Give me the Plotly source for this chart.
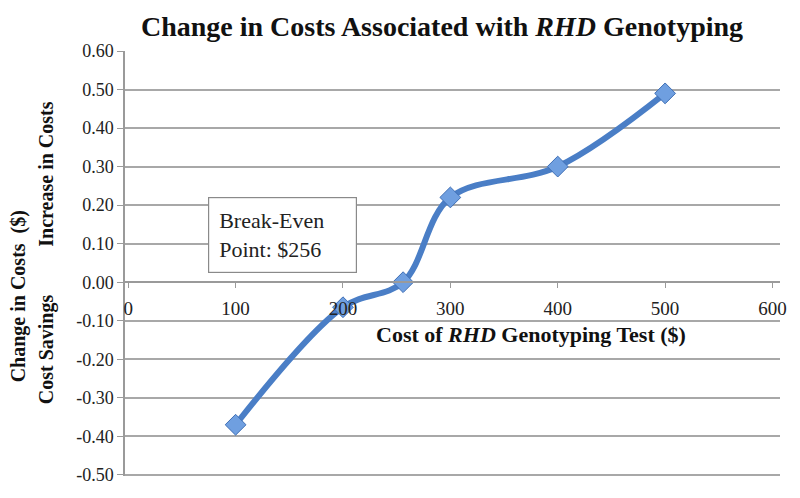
import plotly.graph_objects as go

# data
test_cost = [100, 200, 256, 300, 400, 500]
change_in_cost = [-0.37, -0.065, 0.0, 0.22, 0.30, 0.49]

x_ticks = [0, 100, 200, 300, 400, 500, 600]
y_ticks = [-0.5, -0.4, -0.3, -0.2, -0.1, 0.0, 0.1, 0.2, 0.3, 0.4, 0.5, 0.6]
y_ticktext = ["%.2f" % v for v in y_ticks]  # keeps plain hyphen minus

FONT = "Liberation Serif"
Y_MIN, Y_MAX = -0.503, 0.6

fig = go.Figure()

fig.add_trace(go.Scatter(
    x=test_cost, y=change_in_cost,
    mode='lines+markers',
    line=dict(color='#4A7EC6', width=6, shape='spline', smoothing=1.0),
    marker=dict(symbol='diamond', size=16, color='#6F9FE0',
                line=dict(color='#3F6FB5', width=1)),
    showlegend=False,
    hoverinfo='x+y'
))

# x axis crosses y at 0
zero_pos = (0 - Y_MIN) / (Y_MAX - Y_MIN)

# body has an 8px margin; keep the figure small enough to avoid scrollbars
fig.update_layout(
    width=784, height=482,
    margin=dict(l=117, r=12, t=43, b=14),
    paper_bgcolor='white', plot_bgcolor='white',
    font=dict(family=FONT, size=18, color='#222222'),
    title=dict(text="<b>Change in Costs Associated with <i>RHD</i> Genotyping</b>",
               x=0.5536, xanchor='center', y=0.963, yanchor='middle',
               font=dict(family=FONT, size=28, color='#111111')),
    xaxis=dict(range=[-3, 607], tickvals=x_ticks, ticktext=[str(v) for v in x_ticks],
               anchor='free', position=zero_pos, automargin=False,
               showgrid=False, zeroline=False,
               showline=True, linecolor='#9A9A9A', linewidth=1.5,
               ticks='outside', ticklen=5, tickcolor='#9A9A9A',
               ticklabelstandoff=4,
               tickfont=dict(family=FONT, size=19, color='#222222')),
    yaxis=dict(range=[Y_MIN, Y_MAX], tickvals=y_ticks, ticktext=y_ticktext,
               automargin=False,
               showgrid=True, gridcolor='#A8A8A8', gridwidth=1.5,
               zeroline=False,
               showline=True, linecolor='#9A9A9A', linewidth=1.5,
               ticks='outside', ticklen=6, tickcolor='#9A9A9A',
               tickfont=dict(family=FONT, size=18, color='#222222')),
)

# axis titles
fig.add_annotation(text="<b>Cost of <i>RHD</i> Genotyping Test ($)</b>",
                   xref='x', yref='y', x=229, y=-0.135,
                   xanchor='left', yanchor='middle', showarrow=False,
                   font=dict(family=FONT, size=22, color='#111111'))
fig.add_annotation(text="<b>Change in Costs  ($)</b>",
                   xref='paper', yref='y', x=-0.162, y=-0.037,
                   xanchor='center', yanchor='middle', textangle=-90,
                   showarrow=False, font=dict(family=FONT, size=20, color='#111111'))
fig.add_annotation(text="<b>Increase in Costs</b>",
                   xref='paper', yref='y', x=-0.12, y=0.28,
                   xanchor='center', yanchor='middle', textangle=-90,
                   showarrow=False, font=dict(family=FONT, size=20, color='#111111'))
fig.add_annotation(text="<b>Cost Savings</b>",
                   xref='paper', yref='y', x=-0.12, y=-0.173,
                   xanchor='center', yanchor='middle', textangle=-90,
                   showarrow=False, font=dict(family=FONT, size=20, color='#111111'))

# break-even box
fig.add_annotation(text="Break-Even&nbsp;&nbsp;&nbsp;&nbsp;<br>Point: $256",
                   xref='x', yref='y', x=74, y=0.123,
                   xanchor='left', yanchor='middle', align='left',
                   showarrow=False, bgcolor='white',
                   bordercolor='#8A8A8A', borderwidth=1.2, borderpad=10,
                   font=dict(family=FONT, size=22, color='#222222'))

fig.write_html("out.html")
